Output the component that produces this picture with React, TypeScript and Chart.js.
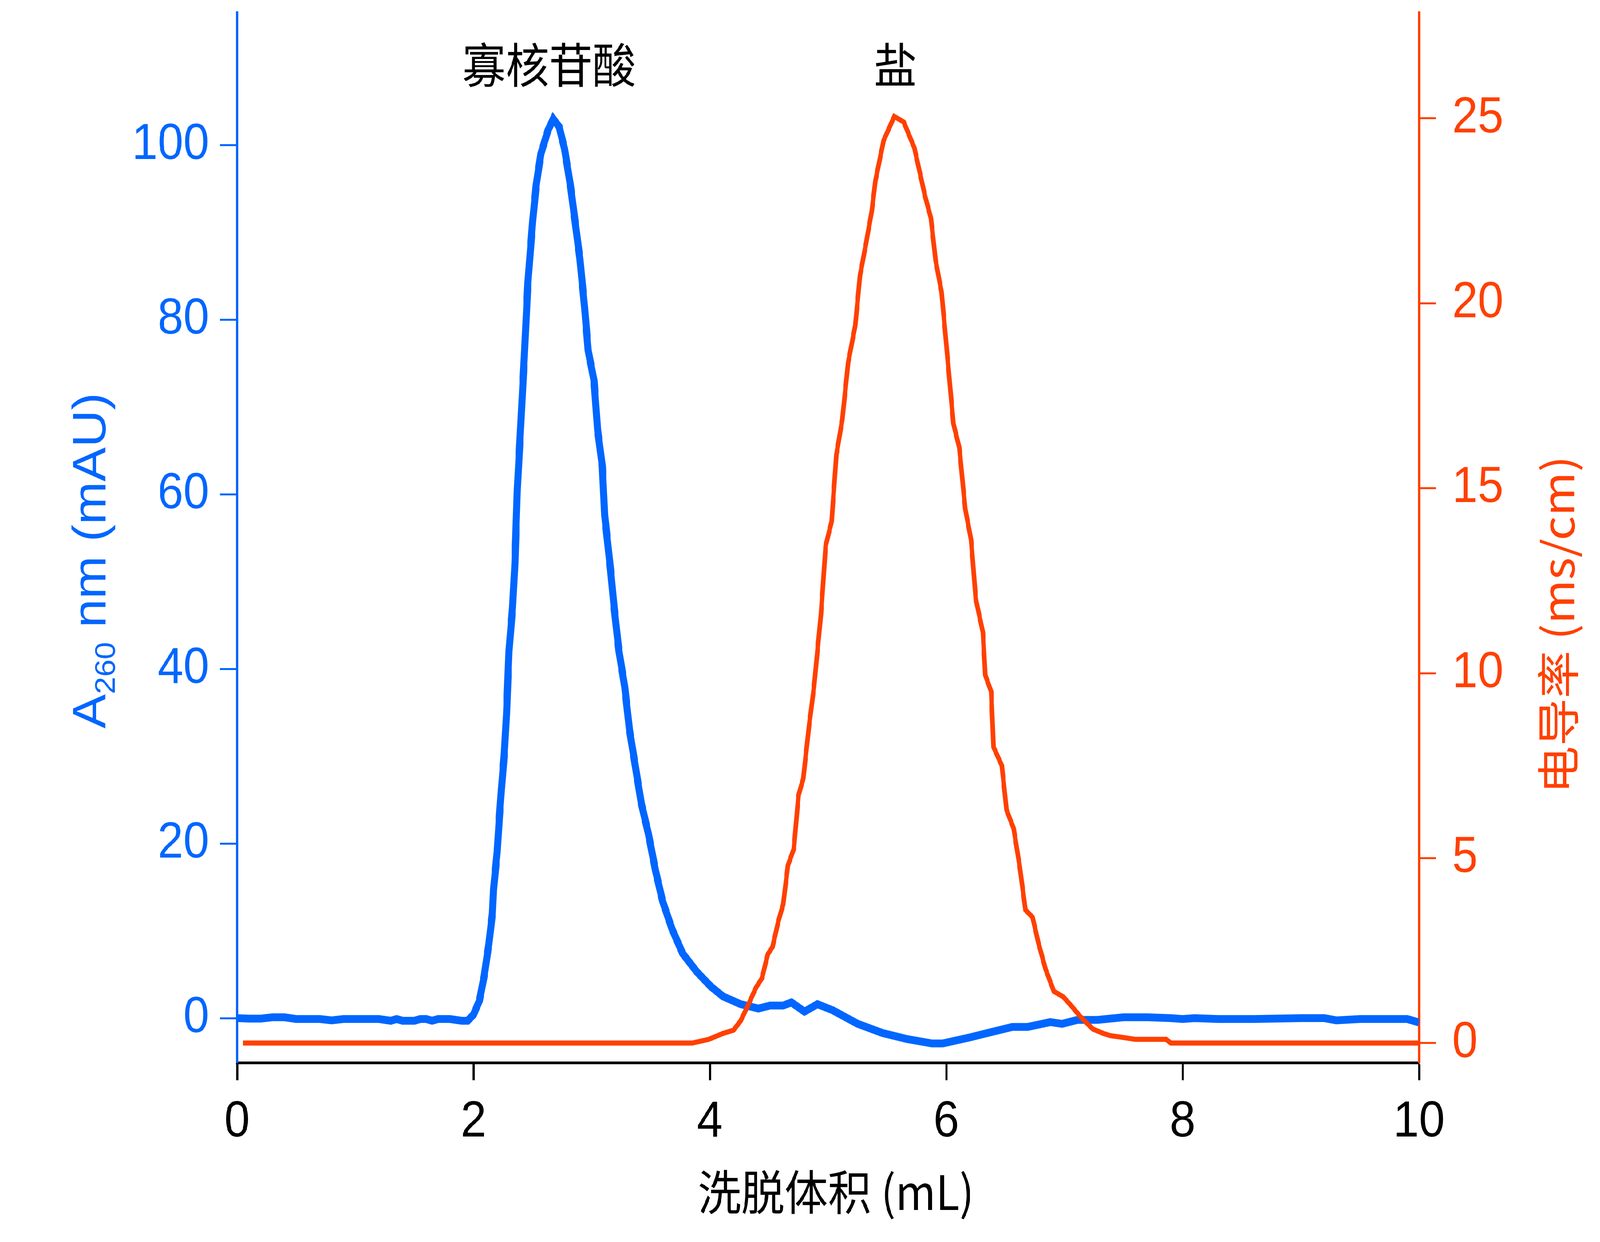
import React, { useEffect, useRef } from "react"
import { Chart, registerables } from "chart.js"

Chart.register(...registerables)

// elution volume (mL) and A260 (mAU)
const volumeA260 = [
  0.0, 0.1, 0.2, 0.3, 0.4, 0.5, 0.6, 0.7, 0.8, 0.9, 1.0, 1.1, 1.2, 1.3, 1.35, 1.4, 1.5, 1.55, 1.6, 1.65, 1.7, 1.8, 1.9, 1.95,
  2.0, 2.05, 2.09, 2.13, 2.16, 2.17, 2.2, 2.22, 2.235, 2.26, 2.28, 2.3, 2.33, 2.35, 2.37, 2.4, 2.43, 2.46, 2.5, 2.53, 2.57,
  2.63, 2.675, 2.725, 2.77, 2.82, 2.86, 2.9, 2.94, 2.97, 3.02, 3.05, 3.09, 3.11, 3.16, 3.19, 3.23, 3.28, 3.32, 3.37, 3.42,
  3.48, 3.54, 3.6, 3.68, 3.77, 3.89, 4.01, 4.11, 4.26, 4.41, 4.51, 4.62, 4.69, 4.8, 4.91, 5.04, 5.25, 5.46, 5.67, 5.88,
  5.97, 6.2, 6.41, 6.56, 6.69, 6.88, 6.98, 7.11, 7.28, 7.5, 7.7, 7.9, 8.0, 8.1, 8.3, 8.6, 9.0, 9.2, 9.3, 9.5, 9.9, 10.0,
]
const a260 = [
  0.0, -0.05, -0.05, 0.1, 0.1, -0.1, -0.1, -0.1, -0.25, -0.1, -0.1, -0.1, -0.1, -0.3, -0.1, -0.3, -0.3, -0.1, -0.1, -0.3, -0.1, -0.1, -0.3, -0.3,
  0.4, 2.0, 4.8, 8.5, 12, 14.8, 19, 23.2, 26, 30.2, 35, 42, 47, 52, 60.4, 68, 75.8, 84.2, 91.2, 95.4, 99,
  101.7, 103, 102.1, 99.6, 95.4, 91.2, 87, 81.4, 76.5, 73, 67.4, 63.2, 57.6, 51.3, 47, 42.1, 37.9, 33, 28.8, 24.6,
  21.1, 16.9, 13.4, 10.2, 7.4, 5.3, 3.6, 2.5, 1.6, 1.1, 1.45, 1.45, 1.8, 0.75, 1.6, 0.9, -0.65, -1.7, -2.4, -2.9,
  -2.9, -2.2, -1.5, -1.0, -1.0, -0.45, -0.65, -0.2, -0.2, 0.1, 0.1, 0.0, -0.1, 0.0, -0.1, -0.1, 0.0, 0.0, -0.25, -0.1, -0.1, -0.5,
]

// elution volume (mL) and conductivity (ms/cm)
const volumeCond = [
  0.05, 1.0, 2.0, 3.0, 3.85, 3.99, 4.11, 4.2, 4.26, 4.32, 4.39, 4.44, 4.49, 4.53, 4.58, 4.62, 4.66, 4.71, 4.75, 4.79, 4.84,
  4.88, 4.94, 4.98, 5.03, 5.07, 5.12, 5.17, 5.23, 5.27, 5.32, 5.37, 5.4, 5.47, 5.56, 5.64, 5.73, 5.82, 5.87, 5.91, 5.96,
  6.0, 6.06, 6.11, 6.16, 6.21, 6.25, 6.31, 6.33, 6.38, 6.4, 6.47, 6.51, 6.57, 6.62, 6.67, 6.73, 6.78, 6.84, 6.91, 6.99,
  7.06, 7.13, 7.24, 7.33, 7.39, 7.5, 7.6, 7.86, 7.9, 9.0, 10.0,
]
const conductivity = [
  0, 0, 0, 0, 0, 0.1, 0.26, 0.35, 0.6, 1.0, 1.5, 1.75, 2.4, 2.6, 3.3, 3.75, 4.8, 5.25, 6.7, 7.15, 8.6,
  9.6, 11.6, 13.45, 14.1, 15.9, 16.85, 18.4, 19.4, 20.75, 21.6, 22.5, 23.3, 24.4, 25.05, 24.9, 24.2, 22.9, 22.3, 21.15, 20.3,
  18.9, 16.75, 16.1, 14.45, 13.6, 12.0, 11.1, 9.95, 9.5, 8.0, 7.5, 6.3, 5.8, 4.8, 3.6, 3.4, 2.7, 2.0, 1.4, 1.25,
  1.0, 0.73, 0.38, 0.26, 0.2, 0.15, 0.1, 0.1, 0, 0, 0,
]

const xTicks = [0, 2, 4, 6, 8, 10]
const a260Ticks = [0, 20, 40, 60, 80, 100]
const condTicks = [0, 5, 10, 15, 20, 25]

const peakLabels = ["寡核苷酸", "盐"]
const peakLabelX = [2.64, 5.57]
const peakLabelY = 109.2

const BLUE = "#0066ff"
const ORANGE = "#ff4000"
const LATIN = '"Liberation Sans", "Noto Sans", sans-serif'
const CJK = '"Noto Sans CJK SC", "Noto Sans", sans-serif'

// chart is laid out on a 4501 x 3179 canvas, then fitted to the real viewport with a css transform
const BASE_W = 4501
const BASE_H = 3179

const textPlugin = {
  id: "chromTexts",
  afterDraw(chart: any) {
    const ctx = chart.ctx as CanvasRenderingContext2D
    const { top, bottom, left, right } = chart.chartArea
    const xs = chart.scales.x
    const ys = chart.scales.y

    ctx.save()
    // peak annotations
    ctx.fillStyle = "#000"
    ctx.font = `122px ${CJK}`
    ctx.textAlign = "center"
    ctx.textBaseline = "middle"
    peakLabels.forEach((t, i) => {
      ctx.fillText(t, xs.getPixelForValue(peakLabelX[i]), ys.getPixelForValue(peakLabelY))
    })

    // x title
    ctx.fillText("洗脱体积 (mL)", (left + right) / 2 + 22, 3051)

    // right title
    ctx.save()
    ctx.fillStyle = ORANGE
    ctx.translate(4383, top + (bottom - top) * 0.583)
    ctx.rotate(-Math.PI / 2)
    ctx.fillText("电导率 (ms/cm)", 0, 0)
    ctx.restore()

    // left title with subscript
    ctx.save()
    ctx.fillStyle = BLUE
    ctx.translate(250, top + (bottom - top) * 0.522)
    ctx.rotate(-Math.PI / 2)
    ctx.textAlign = "left"
    ctx.textBaseline = "alphabetic"
    const mainFont = `132px ${LATIN}`
    const subFont = `80px ${LATIN}`
    ctx.font = mainFont
    const wA = ctx.measureText("A").width
    const wRest = ctx.measureText(" nm (mAU)").width
    ctx.font = subFont
    const wSub = ctx.measureText("260").width
    let cx = -(wA + wSub + wRest) / 2
    const base = 47
    ctx.font = mainFont
    ctx.fillText("A", cx, base)
    cx += wA
    ctx.font = subFont
    ctx.fillText("260", cx, base + 26)
    cx += wSub
    ctx.font = mainFont
    ctx.fillText(" nm (mAU)", cx, base)
    ctx.restore()

    ctx.restore()
  },
}

function setTicks(values: number[]) {
  return (scale: any) => {
    scale.ticks = values.map((v) => ({ value: v }))
  }
}

// fixed axis box, and no extra inset of the plot area for overhanging labels
function fixSize(prop: "width" | "height", size: number) {
  return (s: any) => {
    s[prop] = size
    s.paddingTop = 0
    s.paddingBottom = 0
    s.paddingLeft = 0
    s.paddingRight = 0
  }
}

export default function App() {
  const canvasRef = useRef<HTMLCanvasElement>(null)
  document.body.style.margin = "0"
  document.body.style.overflow = "hidden"
  const sx = window.innerWidth / BASE_W
  const sy = window.innerHeight / BASE_H

  useEffect(() => {
    if (!canvasRef.current) return
    const ctx = canvasRef.current.getContext("2d")
    if (!ctx) return

    const tickFont = { family: LATIN, size: 130 }

    const chart = new Chart(ctx, {
      type: "line",
      data: {
        datasets: [
          {
            label: "电导率",
            data: volumeCond.map((x, i) => ({ x, y: conductivity[i] })),
            yAxisID: "y2",
            borderColor: ORANGE,
            borderWidth: 13,
            pointRadius: 0,
            tension: 0,
            fill: false,
          },
          {
            label: "A260",
            data: volumeA260.map((x, i) => ({ x, y: a260[i] })),
            yAxisID: "y",
            borderColor: BLUE,
            borderWidth: 20,
            pointRadius: 0,
            tension: 0,
            fill: false,
          },
        ],
      },
      options: {
        animation: false,
        responsive: false,
        devicePixelRatio: 1,
        layout: { padding: { top: 32, left: 0, right: 0, bottom: 0 } },
        plugins: {
          legend: { display: false },
          tooltip: { enabled: false },
        },
        scales: {
          x: {
            type: "linear",
            position: "bottom",
            min: 0,
            max: 10,
            afterBuildTicks: setTicks(xTicks),
            afterFit: fixSize("height", 459),
            ticks: { color: "#000", font: tickFont, padding: 30 },
            grid: {
              drawOnChartArea: false,
              drawTicks: true,
              tickLength: 45,
              tickWidth: 6,
              tickColor: "#000",
            },
            border: { display: true, color: "#000", width: 7 },
          },
          y: {
            type: "linear",
            position: "left",
            min: -5.1,
            max: 115.2,
            afterBuildTicks: setTicks(a260Ticks),
            afterFit: fixSize("width", 667),
            ticks: { color: BLUE, font: tickFont, padding: 31 },
            grid: {
              drawOnChartArea: false,
              drawTicks: true,
              tickLength: 48,
              tickWidth: 5,
              tickColor: BLUE,
            },
            border: { display: true, color: BLUE, width: 6 },
          },
          y2: {
            type: "linear",
            position: "right",
            min: -0.53,
            max: 27.86,
            afterBuildTicks: setTicks(condTicks),
            afterFit: fixSize("width", 509),
            ticks: { color: ORANGE, font: tickFont, padding: 45 },
            grid: {
              drawOnChartArea: false,
              drawTicks: true,
              tickLength: 48,
              tickWidth: 5,
              tickColor: ORANGE,
            },
            border: { display: true, color: ORANGE, width: 6 },
          },
        },
      },
      plugins: [textPlugin],
    })

    return () => {
      chart.destroy()
    }
  }, [])

  return (
    <div
      style={{
        position: "absolute",
        left: 0,
        top: 0,
        width: BASE_W,
        height: BASE_H,
        background: "#fff",
        transform: `scale(${sx}, ${sy})`,
        transformOrigin: "0 0",
      }}
    >
      <canvas ref={canvasRef} width={BASE_W} height={BASE_H} style={{ display: "block", width: BASE_W, height: BASE_H }} />
    </div>
  )
}
